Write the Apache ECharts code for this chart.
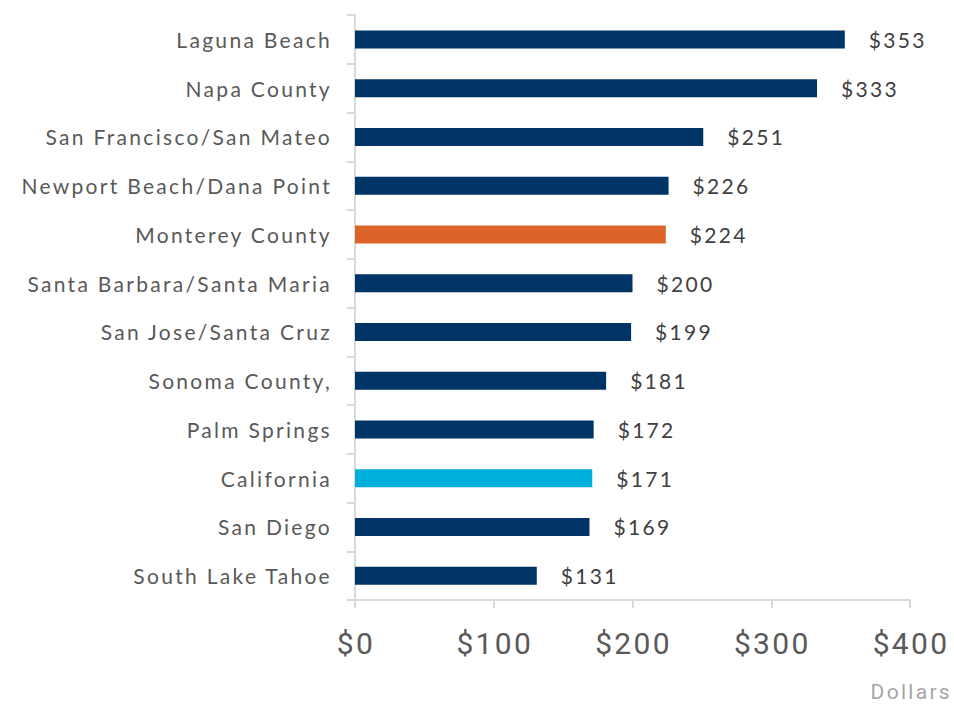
<!DOCTYPE html>
<html><head><meta charset="utf-8">
<script src="https://cdn.jsdelivr.net/npm/echarts@6/dist/echarts.min.js"></script>
<style>html,body{margin:0;padding:0;background:#fff}#c{width:954px;height:705px}#c text{letter-spacing:2.3px}</style>
</head><body><div id="c"></div>
<script>
const categories = ["Laguna Beach","Napa County","San Francisco/San Mateo","Newport Beach/Dana Point","Monterey County","Santa Barbara/Santa Maria","San Jose/Santa Cruz","Sonoma County,","Palm Springs","California","San Diego","South Lake Tahoe"];
const values = [353,333,251,226,224,200,199,181,172,171,169,131];
const xTicks = [0,100,200,300,400];
const unitLabel = "Dollars";

const navy = "#003366", orange = "#DD6428", cyan = "#00AEDB";
const colorFor = c => c === "Monterey County" ? orange : (c === "California" ? cyan : navy);

const chart = echarts.init(document.getElementById('c'), null, {renderer:'svg'});
chart.setOption({
  animation:false,
  grid:{left:355,right:44,top:15,bottom:105,containLabel:false},
  xAxis:{type:'value',min:xTicks[0],max:xTicks[xTicks.length-1],interval:100,
    axisLine:{show:true,lineStyle:{color:'#d9d9d9',width:2}},
    axisTick:{show:true,length:8,lineStyle:{color:'#d9d9d9',width:2}},
    splitLine:{show:false},
    axisLabel:{margin:28,fontFamily:'Roboto',fontSize:30,color:'#595959',padding:[0,0,0,2],formatter:v=>'$'+v}},
  yAxis:{type:'category',data:categories,inverse:true,
    axisLine:{show:true,lineStyle:{color:'#d9d9d9',width:2}},
    axisTick:{show:true,length:8,lineStyle:{color:'#d9d9d9',width:2}},
    axisLabel:{margin:23,fontFamily:'Lato',fontSize:21,color:'#595959'}},
  series:[{type:'bar',barWidth:18,
    data:values.map((v,i)=>({value:v,itemStyle:{color:colorFor(categories[i])}})),
    label:{show:true,position:'right',distance:24,fontFamily:'Lato',fontSize:21,color:'#404040',formatter:p=>'$'+p.value}}],
  graphic:[{type:'text',x:952,y:681,style:{text:unitLabel,textAlign:'right',fontFamily:'Roboto',fontSize:21,fill:'#a6a6a6'}}]
});
</script></body></html>
